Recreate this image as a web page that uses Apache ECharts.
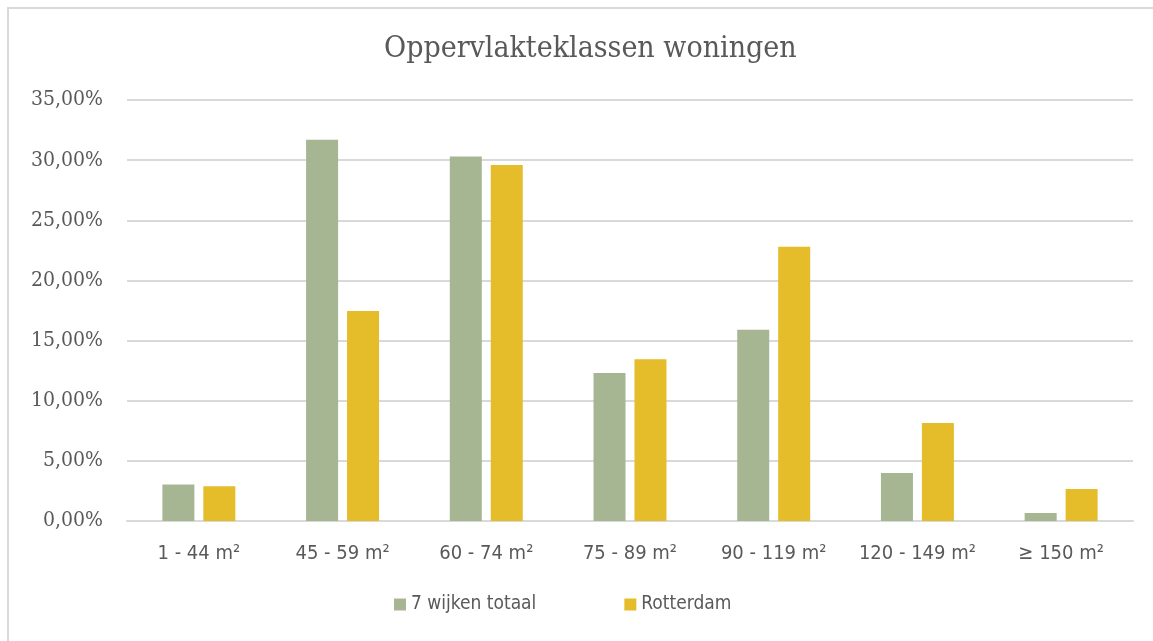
<!DOCTYPE html>
<html lang="nl">

<head>
	<meta charset="UTF-8">
	<script src="https://cdn.jsdelivr.net/npm/echarts@6/dist/echarts.min.js"></script>
	<title>Oppervlakteklassen woningen</title>
	<style>
		html, body { margin: 0; padding: 0; background: #fff; }
		#frame { position: absolute; left: 7px; top: 7px; width: 1160px; height: 650px;
			border-left: 2px solid #d9d9d9; border-top: 2px solid #d9d9d9; box-sizing: border-box; }
		#main { position: absolute; left: 0; top: 0; width: 1153px; height: 641px; }
	</style>
</head>

<body>
	<div id="frame"></div>
	<div id="main"></div>

	<script>
		// data
		var categories = ['1 - 44 m²', '45 - 59 m²', '60 - 74 m²', '75 - 89 m²', '90 - 119 m²', '120 - 149 m²', '≥ 150 m²'];
		var wijken = [3.03, 31.7, 30.3, 12.3, 15.9, 4.0, 0.66];
		var rotterdam = [2.88, 17.45, 29.6, 13.45, 22.8, 8.15, 2.65];

		var labelColor = '#595959';
		var narrow = '"Liberation Sans Narrow", "DejaVu Sans Condensed", sans-serif';
		var serif = '"DejaVu Serif Condensed", "Liberation Serif", serif';
		var chart = echarts.init(document.getElementById('main'));

		chart.setOption({
			animation: false,
			title: {
				text: 'Oppervlakteklassen woningen',
				left: 379,
				top: 29,
				textStyle: {
					fontFamily: serif,
					fontWeight: 'normal',
					fontSize: 30,
					color: labelColor
				}
			},
			legend: {
				bottom: 22,
				left: 389,
				itemWidth: 12,
				itemHeight: 12,
				itemGap: 88,
				icon: 'rect',
				textStyle: {
					fontFamily: narrow,
					fontSize: 19,
					color: labelColor
				}
			},
			grid: { left: 127, right: 20, top: 100, bottom: 120 },
			xAxis: {
				type: 'category',
				data: categories,
				axisTick: { show: false },
				axisLine: { lineStyle: { color: '#d9d9d9', width: 2 } },
				axisLabel: {
					interval: 0,
					margin: 23,
					fontFamily: narrow,
					fontSize: 20,
					color: labelColor
				}
			},
			yAxis: {
				type: 'value',
				min: 0,
				max: 35,
				interval: 5,
				splitLine: { lineStyle: { color: '#d9d9d9', width: 2 } },
				axisLabel: {
					margin: 24,
					fontFamily: serif,
					fontSize: 21,
					color: labelColor,
					formatter: function (v) { return v.toFixed(2).replace('.', ',') + '%'; }
				}
			},
			series: [
				{
					name: '7 wijken totaal',
					type: 'bar',
					data: wijken,
					barWidth: 32,
					barGap: '28%',
					itemStyle: { color: '#a6b592' }
				},
				{
					name: 'Rotterdam',
					type: 'bar',
					data: rotterdam,
					barWidth: 32,
					itemStyle: { color: '#e5bc2a' }
				}
			]
		});
	</script>
</body>

</html>
